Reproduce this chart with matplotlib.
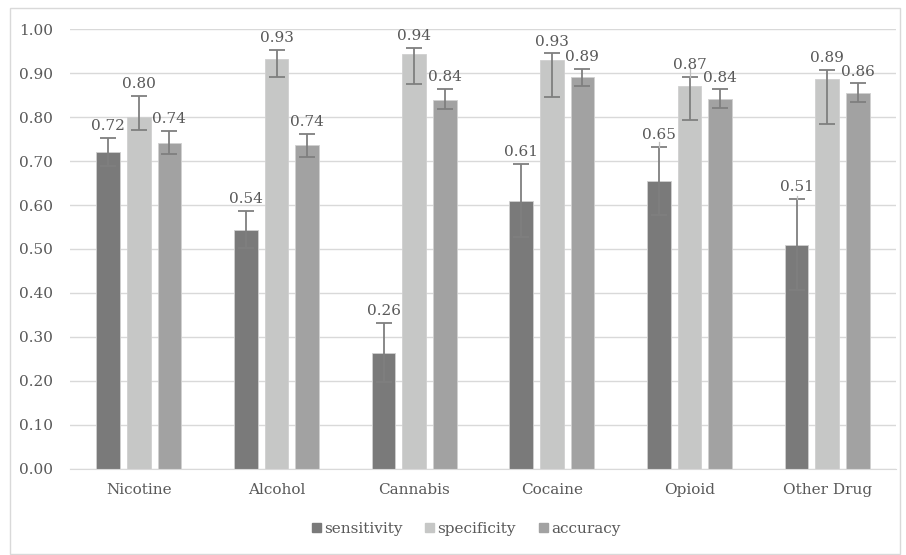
import matplotlib
matplotlib.use('Agg')
import matplotlib.pyplot as plt
import numpy as np
from matplotlib.patches import Rectangle, Patch

plt.rcParams['font.family'] = ['DejaVu Serif']

categories = ['Nicotine', 'Alcohol', 'Cannabis', 'Cocaine', 'Opioid', 'Other Drug']

sensitivity = [0.721, 0.543, 0.263, 0.610, 0.654, 0.510]
sens_hi = [0.753, 0.586, 0.331, 0.694, 0.733, 0.614]
sens_lo = [0.690, 0.502, 0.197, 0.527, 0.577, 0.407]

specificity = [0.800, 0.932, 0.943, 0.929, 0.870, 0.887]
spec_hi = [0.848, 0.954, 0.958, 0.945, 0.892, 0.907]
spec_lo = [0.771, 0.891, 0.875, 0.845, 0.794, 0.784]

accuracy = [0.742, 0.736, 0.840, 0.891, 0.841, 0.856]
acc_hi = [0.769, 0.762, 0.864, 0.909, 0.863, 0.877]
acc_lo = [0.716, 0.710, 0.818, 0.872, 0.820, 0.835]

# faint extra whiskers seen above a few caps
sens_thin = [None, None, None, None, 0.743, 0.621]
spec_thin = [None, None, None, None, 0.915, None]

SERIES = [
    ('sensitivity', sensitivity, sens_lo, sens_hi, sens_thin, '#7a7a7a'),
    ('specificity', specificity, spec_lo, spec_hi, spec_thin, '#c6c7c6'),
    ('accuracy', accuracy, acc_lo, acc_hi, [None] * 6, '#a2a2a2'),
]

TEXT = '#595959'
GRID = '#d9d9d9'
FS = 11

fig = plt.figure(figsize=(9.06, 5.55), dpi=100)
ax = fig.add_axes([70 / 906, 1 - 468.7 / 555, 826 / 906, 439.4 / 555])

x = np.arange(len(categories))
step, width = 0.222, 0.172
for i, (name, vals, lo, hi, thin, color) in enumerate(SERIES):
    pos = x + (i - 1) * step
    ax.bar(pos, vals, width, color=color, edgecolor='#d0d0d0', linewidth=0.6,
           label=name, zorder=2)
    vals_a = np.array(vals)
    yerr = [vals_a - np.array(lo), np.array(hi) - vals_a]
    ax.errorbar(pos, vals, yerr=yerr, fmt='none', ecolor='#7f7f7f',
                elinewidth=1.3, capsize=6, capthick=1.3, zorder=3)
    for p, h, t in zip(pos, hi, thin):
        if t is not None:
            ax.plot([p, p], [h, t], color='#bdbdbd', lw=0.9, zorder=3)
    for p, v, h in zip(pos, vals, hi):
        ax.annotate(f'{v:.2f}', (p, h), xytext=(0, 8.5), textcoords='offset points',
                    ha='center', va='center', fontsize=FS, color=TEXT)

ax.set_xlim(-0.5, len(categories) - 0.5)
ax.set_ylim(0, 1.0)
ax.set_yticks(np.arange(0, 1.01, 0.1))
ax.yaxis.set_major_formatter(matplotlib.ticker.FormatStrFormatter('%.2f'))
ax.set_xticks(x)
ax.set_xticklabels(categories)
ax.tick_params(axis='both', length=0, labelsize=FS, labelcolor=TEXT)
ax.tick_params(axis='y', pad=12)
ax.tick_params(axis='x', pad=10)
ax.grid(axis='y', color=GRID, lw=1, zorder=0)
ax.set_axisbelow(True)
for s in ['top', 'right', 'left']:
    ax.spines[s].set_visible(False)
ax.spines['bottom'].set_color(GRID)

handles = [Patch(color=c, label=n) for n, _, _, _, _, c in SERIES]
fig.legend(handles=handles, loc='center', bbox_to_anchor=(466 / 906, 1 - 529 / 555),
           ncol=3, frameon=False, fontsize=FS, labelcolor=TEXT,
           handlelength=0.6, handleheight=0.6, handletextpad=0.2, columnspacing=1.5)

fig.patches.append(Rectangle((10 / 906, 1 / 555), 890 / 906, 546 / 555,
                             transform=fig.transFigure, fill=False,
                             edgecolor=GRID, lw=1))

fig.savefig('out.png', dpi=100)
